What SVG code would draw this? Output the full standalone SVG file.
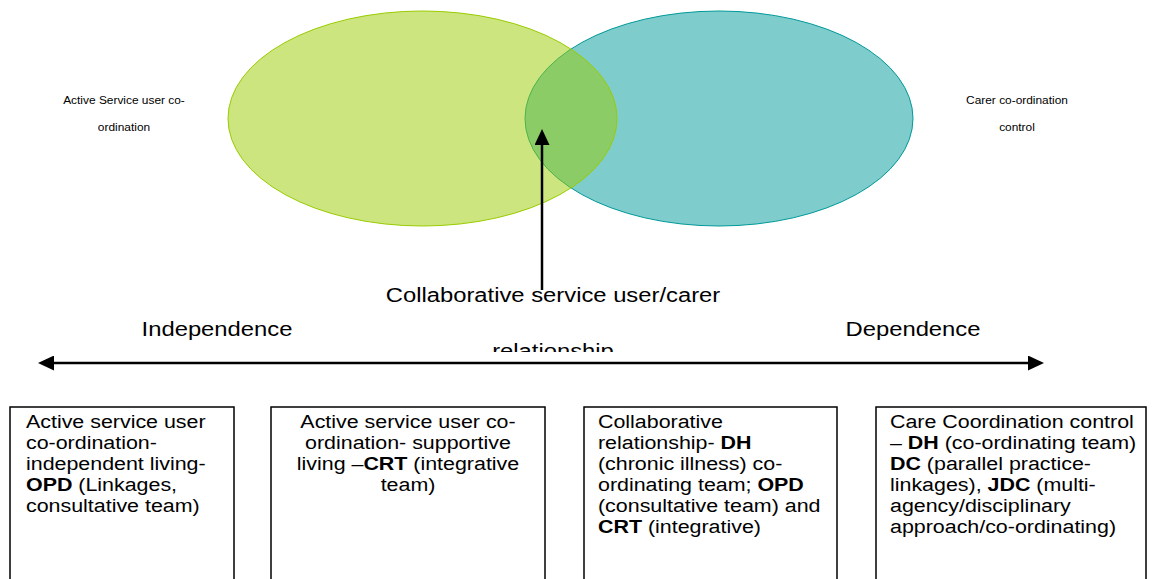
<svg xmlns="http://www.w3.org/2000/svg" width="1155" height="579" viewBox="0 0 1155 579">
<style>
text{font-family:"Liberation Sans",Arial,sans-serif;fill:#000}
.small{font-size:10px}
.lbl{font-size:20px}
.box{font-size:18px}
.b{font-weight:bold}
.rect{fill:#fff;stroke:#000;stroke-width:1.5}
.conn{stroke:#000;stroke-width:2.5;fill:none}
</style>
<defs>
<marker id="ah" viewBox="0 0 16 15" refX="8" refY="7.5" markerWidth="16" markerHeight="15" markerUnits="userSpaceOnUse" orient="auto-start-reverse">
<path d="M0,0 L16,7.5 L0,15 Z" fill="#000"/>
</marker>
<clipPath id="clipRel"><rect x="300" y="270" width="500" height="82"/></clipPath>
</defs>
<g id="carer-ellipse">
<ellipse cx="719" cy="118.5" rx="194" ry="107.5" fill="#009999" fill-opacity="0.5" stroke="#009999" stroke-width="1"/>
</g>
<g id="user-ellipse">
<ellipse cx="422.5" cy="118.5" rx="194.5" ry="107.5" fill="#99CC00" fill-opacity="0.5" stroke="#99CC00" stroke-width="1"/>
</g>
<g id="label-active" transform="matrix(1.19,0,0,1,-23.56,0)">
<text class="small" x="124" y="104" text-anchor="middle">Active Service user co-</text>
<text class="small" x="124" y="131" text-anchor="middle">ordination</text>
</g>
<g id="label-carer" transform="matrix(1.19,0,0,1,-193.23,0)">
<text class="small" x="1017" y="104" text-anchor="middle">Carer co-ordination</text>
<text class="small" x="1017" y="131" text-anchor="middle">control</text>
</g>
<g id="label-collab" clip-path="url(#clipRel)">
<g transform="matrix(1.19,0,0,1,-105.07,0)">
<text class="lbl" x="553" y="302" text-anchor="middle">Collaborative service user/carer</text>
<text class="lbl" x="553" y="358" text-anchor="middle">relationship</text>
</g>
</g>
<g id="label-independence" transform="matrix(1.19,0,0,1,-41.23,0)"><text class="lbl" x="217" y="336" text-anchor="middle">Independence</text></g>
<g id="label-dependence" transform="matrix(1.19,0,0,1,-173.47,0)"><text class="lbl" x="913" y="336" text-anchor="middle">Dependence</text></g>
<g id="connectors">
<path class="conn" d="M542,290 L542,137" marker-end="url(#ah)"/>
<path class="conn" d="M46,363 L1036,363" marker-start="url(#ah)" marker-end="url(#ah)"/>
</g>
<g id="box1">
<rect class="rect" x="10" y="407" width="224" height="190"/>
<g transform="matrix(1.19,0,0,1,-4.94,0)">
<text class="box" x="26" y="428">Active service user</text>
<text class="box" x="26" y="449">co-ordination-</text>
<text class="box" x="26" y="470">independent living-</text>
<text class="box" x="26" y="491"><tspan class="b">OPD</tspan> (Linkages,</text>
<text class="box" x="26" y="512">consultative team)</text>
</g>
</g>
<g id="box2">
<rect class="rect" x="271" y="407" width="274" height="190"/>
<g transform="matrix(1.19,0,0,1,-77.52,0)">
<text class="box" x="408" y="428" text-anchor="middle">Active service user co-</text>
<text class="box" x="408" y="449" text-anchor="middle">ordination- supportive</text>
<text class="box" x="408" y="470" text-anchor="middle">living –<tspan class="b">CRT</tspan> (integrative</text>
<text class="box" x="408" y="491" text-anchor="middle">team)</text>
</g>
</g>
<g id="box3">
<rect class="rect" x="584" y="407" width="253" height="190"/>
<g transform="matrix(1.19,0,0,1,-113.62,0)">
<text class="box" x="598" y="428">Collaborative</text>
<text class="box" x="598" y="449">relationship- <tspan class="b">DH</tspan></text>
<text class="box" x="598" y="470">(chronic illness) co-</text>
<text class="box" x="598" y="491">ordinating team; <tspan class="b">OPD</tspan></text>
<text class="box" x="598" y="512">(consultative team) and</text>
<text class="box" x="598" y="533"><tspan class="b">CRT</tspan> (integrative)</text>
</g>
</g>
<g id="box4">
<rect class="rect" x="876" y="407" width="270" height="190"/>
<g transform="matrix(1.19,0,0,1,-169.1,0)">
<text class="box" x="890" y="428">Care Coordination control</text>
<text class="box" x="890" y="449">– <tspan class="b">DH</tspan> (co-ordinating team)</text>
<text class="box" x="890" y="470"><tspan class="b">DC</tspan> (parallel practice-</text>
<text class="box" x="890" y="491">linkages), <tspan class="b">JDC</tspan> (multi-</text>
<text class="box" x="890" y="512">agency/disciplinary</text>
<text class="box" x="890" y="533">approach/co-ordinating)</text>
</g>
</g>
</svg>
